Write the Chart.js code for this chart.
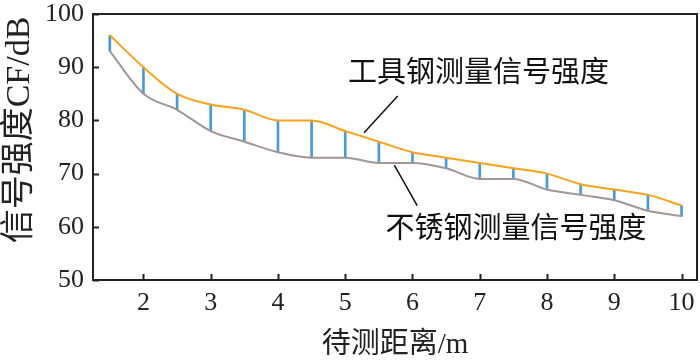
<!DOCTYPE html>
<html>
<head>
<meta charset="utf-8">
<script src="https://cdn.jsdelivr.net/npm/chart.js@4/dist/chart.umd.min.js"></script>
<style>
  html, body { margin: 0; padding: 0; background: #fff; }
  #wrap { width: 700px; height: 363px; }
</style>
</head>
<body>
<div id="wrap"><canvas id="grafico"></canvas></div>
<script>
// Dados
const distancias = [1.5, 2, 2.5, 3, 3.5, 4, 4.5, 5, 5.5, 6, 6.5, 7, 7.5, 8, 8.5, 9, 9.5, 10];
const acoFerramenta = [96, 90, 85, 83, 82, 80, 80, 78, 76, 74, 73, 72, 71, 70, 68, 67, 66, 64];
const acoInox = [93, 85, 82, 78, 76, 74, 73, 73, 72, 72, 71, 69, 69, 67, 66, 65, 63, 62];
const xTicks = [2, 3, 4, 5, 6, 7, 8, 9, 10];
const yTicks = [50, 60, 70, 80, 90, 100];

const nomeFerramenta = '工具钢测量信号强度';
const nomeInox = '不锈钢测量信号强度';

const fonteSerif = "'Liberation Serif', 'Times New Roman', 'Noto Sans CJK SC', serif";

// Rótulos com linha de chamada (posições em unidades dos eixos)
const anotacoes = [
  { texto: nomeFerramenta, tx: 6.98, ty: 88.6, x1: 5.28, y1: 77.7, x2: 5.78, y2: 84.6 },
  { texto: nomeInox, tx: 7.54, ty: 59.4, x1: 5.73, y1: 71.6, x2: 6.07, y2: 64.0 }
];

// Moldura, marcas internas e anotações
const molduraPlugin = {
  id: 'moldura',
  afterDatasetsDraw(chart) {
    const { ctx, chartArea: a, scales } = chart;
    ctx.save();
    ctx.strokeStyle = '#222';
    ctx.lineWidth = 2;
    ctx.strokeRect(a.left, a.top, a.right - a.left, a.bottom - a.top);
    ctx.beginPath();
    xTicks.forEach(v => {
      const px = Math.round(scales.x.getPixelForValue(v)) + 0.5;
      ctx.moveTo(px, a.bottom);
      ctx.lineTo(px, a.bottom - 6);
    });
    yTicks.forEach(v => {
      const py = Math.round(scales.y.getPixelForValue(v)) + 0.5;
      ctx.moveTo(a.left, py);
      ctx.lineTo(a.left + 6, py);
    });
    ctx.stroke();

    ctx.lineWidth = 1.5;
    ctx.strokeStyle = '#111';
    ctx.fillStyle = '#111';
    ctx.font = "29px " + fonteSerif;
    ctx.textAlign = 'center';
    ctx.textBaseline = 'middle';
    anotacoes.forEach(n => {
      ctx.beginPath();
      ctx.moveTo(scales.x.getPixelForValue(n.x1), scales.y.getPixelForValue(n.y1));
      ctx.lineTo(scales.x.getPixelForValue(n.x2), scales.y.getPixelForValue(n.y2));
      ctx.stroke();
      ctx.fillText(n.texto, scales.x.getPixelForValue(n.tx), scales.y.getPixelForValue(n.ty));
    });
    ctx.restore();
  }
};

new Chart(document.getElementById('grafico'), {
  type: 'line',
  data: {
    datasets: [
      {
        label: nomeFerramenta,
        data: distancias.map((x, i) => ({ x, y: acoFerramenta[i] })),
        borderColor: '#f5a21d',
        borderWidth: 2,
        pointRadius: 0,
        cubicInterpolationMode: 'monotone',
        order: 1
      },
      {
        label: nomeInox,
        data: distancias.map((x, i) => ({ x, y: acoInox[i] })),
        borderColor: '#a09696',
        borderWidth: 2,
        pointRadius: 0,
        cubicInterpolationMode: 'monotone',
        order: 1
      },
      {
        type: 'bar',
        label: 'diferença',
        data: distancias.map((x, i) => ({ x, y: [acoInox[i], acoFerramenta[i]] })),
        backgroundColor: '#4a9bd5',
        barThickness: 2,
        order: 2
      }
    ]
  },
  options: {
    responsive: true,
    maintainAspectRatio: false,
    animation: false,
    layout: { padding: { left: 0, right: 3, top: 14, bottom: 0 } },
    plugins: {
      legend: { display: false },
      tooltip: { enabled: false }
    },
    scales: {
      x: {
        type: 'linear',
        offset: false,
        min: 1.25,
        max: 10.23,
        afterBuildTicks: s => { s.ticks = xTicks.map(v => ({ value: v })); },
        afterFit: s => { s.height = 83; s.paddingLeft = 0; s.paddingRight = 0; },
        grid: { display: false, drawTicks: false },
        border: { display: false },
        ticks: { color: '#222', font: { family: fonteSerif, size: 26 }, padding: 8, maxRotation: 0 },
        title: {
          display: true,
          text: '待测距离/m',
          color: '#222',
          font: { family: fonteSerif, size: 29 },
          padding: { top: 0, bottom: 0 }
        }
      },
      y: {
        min: 50,
        max: 100,
        afterBuildTicks: s => { s.ticks = yTicks.map(v => ({ value: v })); },
        afterFit: s => { s.width = 93; s.paddingTop = 0; s.paddingBottom = 0; },
        grid: { display: false, drawTicks: false },
        border: { display: false },
        ticks: { color: '#222', font: { family: fonteSerif, size: 26 }, padding: 9 },
        title: {
          display: true,
          text: '    信号强度CF/dB',
          color: '#222',
          font: { family: fonteSerif, size: 34 },
          padding: { top: 0, bottom: 0 }
        }
      }
    }
  },
  plugins: [molduraPlugin]
});
</script>
</body>
</html>
